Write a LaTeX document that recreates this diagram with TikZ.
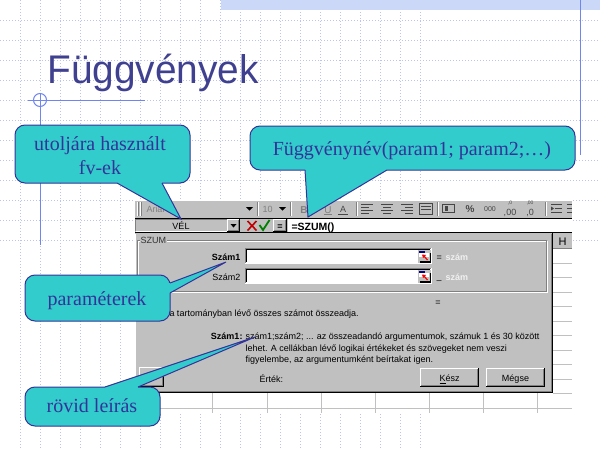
\documentclass[tikz,border=0pt]{standalone}
\usepackage{fontspec}
\setmainfont{Liberation Serif}
\setsansfont{Liberation Sans}
\newfontfamily\dlgfont{Liberation Sans}
\definecolor{calfill}{RGB}{51,204,204}
\definecolor{calline}{RGB}{51,51,153}
\definecolor{caltxt}{RGB}{51,51,153}
\definecolor{titlecol}{RGB}{64,64,144}
\definecolor{gridcol}{RGB}{185,196,240}
\definecolor{accent}{RGB}{111,134,240}
\definecolor{bandcol}{RGB}{204,216,248}
\definecolor{xlgray}{RGB}{192,192,192}
\definecolor{xldark}{RGB}{128,128,128}
\definecolor{xlred}{RGB}{192,0,0}
\definecolor{xlgreen}{RGB}{0,128,0}
\definecolor{xlnavy}{RGB}{0,0,128}
\definecolor{cellline}{RGB}{192,192,192}
\definecolor{iconcol}{RGB}{70,70,70}
\newcommand\xlRaised[4]{%
  \fill[xlgray] (#1,#2) rectangle (#3,#4);
  \draw[white] (#1+0.5,#4-1) -- (#1+0.5,#2+0.5) -- (#3-1,#2+0.5);
  \draw[black] (#3-0.5,#2) -- (#3-0.5,#4-0.5) -- (#1,#4-0.5);
  \draw[xldark] (#3-1.5,#2+1) -- (#3-1.5,#4-1.5) -- (#1+1,#4-1.5);}
\newcommand\xlSunken[4]{%
  \fill[white] (#1,#2) rectangle (#3,#4);
  \draw[xldark] (#1+0.5,#4-1) -- (#1+0.5,#2+0.5) -- (#3-1,#2+0.5);
  \draw[black] (#1+1.5,#4-2) -- (#1+1.5,#2+1.5) -- (#3-2,#2+1.5);
  \draw[white] (#3-0.5,#2) -- (#3-0.5,#4-0.5) -- (#1,#4-0.5);}
\newcommand\xlCollapse[2]{%
  \fill[xlgray] (#1,#2) rectangle (#1+13,#2+13);
  \fill[xlnavy] (#1+1,#2+1) rectangle (#1+7,#2+3);
  \fill[white] (#1+1,#2+3) rectangle (#1+11,#2+7);
  \draw[red,line width=1.2pt] (#1+9.5,#2+10.5) -- (#1+5.5,#2+6);
  \fill[red] (#1+4,#2+5) -- (#1+8,#2+5.5) -- (#1+5,#2+8.5) -- cycle;
  \fill[black] (#1+2,#2+11.5) rectangle (#1+12,#2+13);
  \fill[black] (#1+11.5,#2+3) rectangle (#1+12.5,#2+13);}
\begin{document}
\begin{tikzpicture}[x=1pt,y=-1pt,line width=1pt,
  gridln/.style={draw=gridcol,line width=1pt,dash pattern=on 1pt off 2pt},
  accentln/.style={draw=accent,line width=1pt},
  callbox/.style={fill=calfill,draw=calline,line width=1pt,rounded corners=10pt},
  tailfill/.style={fill=calfill},
  tailedge/.style={draw=calline,line width=1pt,line join=miter},
  caltext/.style={font=\fontsize{20}{24}\selectfont,text=caltxt,inner sep=0pt},
  dlg/.style={font=\dlgfont\fontsize{9}{11}\selectfont,inner sep=0pt},
  dlgb/.style={font=\dlgfont\bfseries\fontsize{9}{11}\selectfont,inner sep=0pt},
  icon/.style={draw=iconcol,line width=1pt},
  sepl/.style={draw=xldark,line width=1pt},
  cell/.style={draw=cellline,line width=1pt}]
\useasboundingbox (0,0) rectangle (600,450);
\fill[white] (0,0) rectangle (600,450);
% background grid
\foreach \gx in {20,40,...,420} \draw[gridln] (\gx,0) -- (\gx,450);
\foreach \gy in {20,40,...,240} \draw[gridln] (0,\gy) -- (600,\gy);
\fill[bandcol] (221,0) rectangle (600,10);
% accent lines
\draw[accentln] (580,0) -- (580,155);
\draw[accentln] (28,100) -- (145,100);
\draw[accentln] (40,93) -- (40,245);
\draw[accentln] (40,100) circle (6.5);
% title
\node[anchor=base west,font=\sffamily\fontsize{40}{48}\selectfont,text=titlecol,inner sep=0pt] (title) at (47,83) {\scalebox{0.97}[1]{Függvények}};
% ---------- toolbar ----------
\fill[xlgray] (135,200) rectangle (572,218);
\draw[white] (135,200.5) -- (572,200.5);
\draw[white] (137.5,202) -- (137.5,216); \draw[xldark] (138.5,202) -- (138.5,216);
\draw[white] (140.5,202) -- (140.5,216); \draw[xldark] (141.5,202) -- (141.5,216);
\node[dlg,text=xldark,anchor=base west] (tbfont) at (146,212) {Arial};
\fill[black] (246,207) -- (253,207) -- (249.5,210.5) -- cycle;
\draw[sepl] (257.5,202) -- (257.5,216); \draw[white] (258.5,202) -- (258.5,216);
\node[dlg,text=xldark,anchor=base west] (tbsize) at (262,212) {10};
\fill[black] (279,207) -- (286,207) -- (282.5,210.5) -- cycle;
\draw[sepl] (290.5,202) -- (290.5,216); \draw[white] (291.5,202) -- (291.5,216);
\node[dlgb,text=xldark,anchor=base] (tbB) at (304,213) {\fontsize{10}{12}\selectfont B};
\node[dlg,text=xldark,anchor=base] (tbI) at (316,213) {\fontsize{10}{12}\selectfont\itshape I};
\node[dlg,text=xldark,anchor=base] (tbU) at (328,213) {\fontsize{10}{12}\selectfont\underline{U}};
\node[dlg,text=iconcol,anchor=base] (tbA) at (343,212) {A};
\draw[icon] (338,214.5) -- (348,214.5);
\draw[sepl] (356.5,202) -- (356.5,216); \draw[white] (357.5,202) -- (357.5,216);
\draw[icon] (361,204.5) -- (373,204.5) (361,207.5) -- (369,207.5) (361,210.5) -- (373,210.5) (361,213.5) -- (369,213.5);
\draw[icon] (381,204.5) -- (393,204.5) (383,207.5) -- (391,207.5) (381,210.5) -- (393,210.5) (383,213.5) -- (391,213.5);
\draw[icon] (401,204.5) -- (413,204.5) (405,207.5) -- (413,207.5) (401,210.5) -- (413,210.5) (405,213.5) -- (413,213.5);
\draw[icon] (419.5,203.5) rectangle (432.5,214.5);
\draw[icon] (421,209) -- (431,209) (421,206) -- (431,206);
\draw[sepl] (437.5,202) -- (437.5,216); \draw[white] (438.5,202) -- (438.5,216);
\draw[icon] (442.5,204.5) rectangle (454.5,212.5);
\fill[iconcol] (445,206) rectangle (448,211);
\node[dlgb,text=iconcol] (tbpct) at (470,209) {\fontsize{10}{12}\selectfont\%};
\node[dlg,text=iconcol] (tbth) at (490,209.5) {\fontsize{7}{8}\selectfont 000};
\node[dlg,text=iconcol,align=center] (tbinc) at (510,209) {\fontsize{5}{5.5}\selectfont ,0\\,00};
\node[dlg,text=iconcol,align=center] (tbdec) at (530,209) {\fontsize{5}{5.5}\selectfont ,00\\,0};
\draw[sepl] (545.5,202) -- (545.5,216); \draw[white] (546.5,202) -- (546.5,216);
\draw[icon] (551,204.5) -- (562,204.5) (555,208.5) -- (562,208.5) (551,212.5) -- (562,212.5);
\fill[iconcol] (551,206.5) -- (554,208.5) -- (551,210.5) -- cycle;
\draw[icon] (567,204.5) -- (572,204.5) (567,208.5) -- (572,208.5) (567,212.5) -- (572,212.5);
% ---------- formula bar ----------
\fill[xlgray] (135,218) rectangle (288,232);
\draw[black] (135,218.5) -- (572,218.5);
\draw[xldark] (135.5,231) -- (135.5,219.5) -- (227,219.5);
\draw[white] (136,231.5) -- (227,231.5);
\node[dlg,anchor=base] (namebox) at (181,229) {VÉL};
\xlRaised{227}{219}{240}{232}
\fill[black] (230.5,224) -- (236.5,224) -- (233.5,227.5) -- cycle;
\draw[xlred,line width=1.6pt] (247.5,221) -- (256.5,230.5) (256.5,221) -- (247.5,230.5);
\draw[xlgreen,line width=1.8pt] (259.5,225) -- (263,230) -- (269.5,220);
\xlRaised{273}{219}{287}{232}
\node[dlgb,anchor=base] (eqbtn) at (280,229) {=};
\fill[white] (288,219) rectangle (572,232);
\node[font=\dlgfont\bfseries\fontsize{10.5}{12}\selectfont,anchor=base west,inner sep=0pt] (formula) at (291,230) {=SZUM()};
% ---------- sheet behind ----------
\fill[white] (553,233) rectangle (572,413);
\fill[white] (135,393) rectangle (572,413);
\fill[xlgray] (553,233) rectangle (572,248.5);
\draw[xldark] (553,248.5) -- (572,248.5);
\node[font=\dlgfont\fontsize{11}{13}\selectfont,anchor=base,inner sep=0pt] (colH) at (562.5,245) {H};
\foreach \yy in {263,277.5,292,306.5,321,335.5,350,364.5,379,393.5,408} \draw[cell] (553,\yy) -- (572,\yy);
\draw[cell] (135,408) -- (572,408);
\foreach \xx in {212,267,321,375,429,483,537} \draw[cell] (\xx,393) -- (\xx,413);
% ---------- dialog ----------
\fill[xlgray] (135,233) rectangle (553,393);
\draw[black] (135,232.5) -- (572,232.5);
\draw[white] (135.5,392) -- (135.5,233.5);
\draw[black] (552.5,233) -- (552.5,392.5) -- (135,392.5);
\draw[xldark] (551.5,234) -- (551.5,391.5) -- (136,391.5);
\draw[white] (138.5,241.5) rectangle (547.5,292.5);
\draw[xldark] (137.5,240.5) rectangle (546.5,291.5);
\node[dlg,fill=xlgray,inner xsep=1pt,inner ysep=0.5pt,anchor=base west,text=black!80] (szum) at (139,243.5) {SZUM};
\node[dlgb,anchor=base east] (lsz1) at (241,260.5) {Szám1};
\xlSunken{245}{248}{432}{264}
\xlCollapse{418}{249.5}
\node[dlg,anchor=base west] (eq1) at (436,260.5) {=};
\node[dlgb,anchor=base west,text=white!94!black] (val1) at (445,260.5) {szám};
\node[dlg,anchor=base east] (lsz2) at (241,280.5) {Szám2};
\xlSunken{245}{268}{432}{284}
\xlCollapse{418}{269.5}
\node[dlg,anchor=base west] (eq2) at (436,283) {–};
\node[dlgb,anchor=base west,text=white!94!black] (val2) at (445,280.5) {szám};
\node[dlg,anchor=base] (eq3) at (438,305) {=};
\node[dlg,anchor=base west] (desc) at (169,316) {a tartományban lévő összes számot összeadja.};
\node[dlgb,anchor=base east] (lsz1b) at (243,339.5) {Szám1:};
\node[dlg,anchor=base west] (h1) at (245,339.5) {szám1;szám2; ... az összeadandó argumentumok, számuk 1 és 30 között};
\node[dlg,anchor=base west] (h2) at (245,351) {lehet. A cellákban lévő logikai értékeket és szövegeket nem veszi};
\node[dlg,anchor=base west] (h3) at (245,362.5) {figyelembe, az argumentumként beírtakat igen.};
\xlRaised{139}{367}{164}{387}
\fill[yellow] (157,378) circle (1.5);
\node[dlg,anchor=base west] (ertek) at (259,382) {Érték:};
\xlRaised{420}{368}{479}{387}
\node[dlg,anchor=base] (kesz) at (449.5,381.5) {\underline{K}ész};
\xlRaised{486}{368}{545}{387}
\node[dlg,anchor=base] (megse) at (515.5,381.5) {Mégse};
% ---------- callouts ----------
% 1
\draw[callbox] (15,125) rectangle (190,183);
\coordinate (b1a) at (117,183); \coordinate (b1b) at (162,183); \coordinate (t1) at (181,219);
\fill[tailfill] (117,181) -- (b1a) -- (t1) -- (b1b) -- (162,181) -- cycle;
\draw[tailedge] (b1a) -- (t1) -- (b1b);
\node[caltext,anchor=base] (c1a) at (100,150) {utoljára használt};
\node[caltext,anchor=base] (c1b) at (100,174) {fv-ek};
% 2
\draw[callbox] (250,126) rectangle (575,170);
\coordinate (b2a) at (305,170); \coordinate (b2b) at (387,170); \coordinate (t2) at (308,217);
\fill[tailfill] (305,168) -- (b2a) -- (t2) -- (b2b) -- (387,168) -- cycle;
\draw[tailedge] (b2a) -- (t2) -- (b2b);
\node[caltext,anchor=base] (c2) at (412,155) {Függvénynév(param1; param2;…)};
% 3
\draw[callbox] (25,275) rectangle (170,321);
\coordinate (b3a) at (170,283); \coordinate (b3b) at (170,293); \coordinate (t3) at (226,262);
\fill[tailfill] (168,283) -- (b3a) -- (t3) -- (b3b) -- (168,293) -- cycle;
\draw[tailedge] (b3a) -- (t3) -- (b3b);
\node[caltext,anchor=base] (c3) at (97,305) {paraméterek};
% 4
\draw[callbox] (25,387) rectangle (160,426);
\coordinate (b4a) at (105,387); \coordinate (b4b) at (138,387); \coordinate (t4) at (255,337);
\fill[tailfill] (105,389) -- (b4a) -- (t4) -- (b4b) -- (138,389) -- cycle;
\draw[tailedge] (b4a) -- (t4) -- (b4b);
\node[caltext,anchor=base] (c4) at (92,412.5) {rövid leírás};
\end{tikzpicture}
\end{document}
